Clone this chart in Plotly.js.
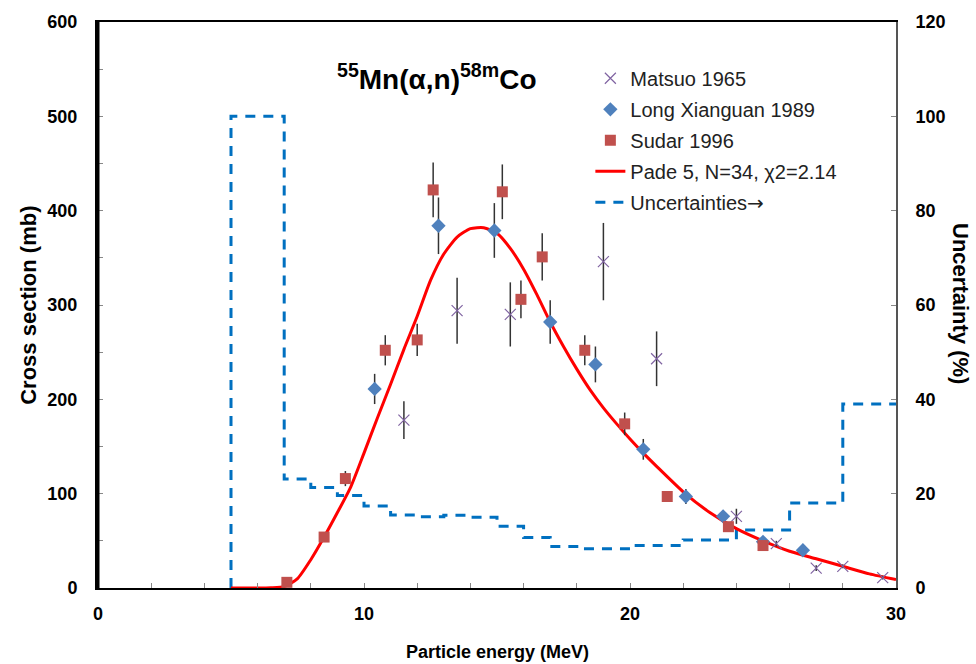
<!DOCTYPE html>
<html>
<head>
<meta charset="utf-8">
<script src="https://cdn.plot.ly/plotly-3.0.1.min.js"></script>
<style>html,body{margin:0;padding:0;background:#fff;}#chart{width:976px;height:664px;}</style>
</head>
<body>
<div id="chart"></div>
<script>
// Matsuo 1965
const matsuoX = [11.5, 13.5, 15.5, 19.0, 21.0, 24.0, 25.5, 27.0, 28.0, 29.5];
const matsuoY = [178, 294, 290, 346, 243, 76, 47, 21, 23, 11];
const matsuoErr = [20, 35, 34, 41, 29, 8, 3, 3, 2, 2];
// Long Xianguan 1989
const longX = [10.4, 12.8, 14.9, 17.0, 18.7, 20.5, 22.1, 23.5, 25.0, 26.5];
const longY = [211, 384, 379, 282, 237, 147, 97, 76, 49, 40];
const longErr = [16, 30, 29, 23, 19, 11, 8, 3, 3, 2];
// Sudar 1996
const sudarX = [7.1, 8.5, 9.3, 10.8, 12.0, 12.6, 15.2, 15.9, 16.7, 18.3, 19.8, 21.4, 23.7, 25.0];
const sudarY = [6, 54, 116, 252, 263, 422, 420, 306, 351, 252, 174, 97, 65, 45];
const sudarErr = [1, 3, 8, 16, 17, 29, 29, 20, 25, 16, 12, 3, 3, 2];
// Pade 5 fit
const padeX = [5,5.5,6,6.5,7,7.5,8,8.5,9,9.5,10,10.5,11,11.5,12,12.5,13,13.5,14,14.5,15,15.5,16,16.5,17,17.5,18,18.5,19,19.5,20,20.5,21,22,23,24,25,26,27,28,29,30];
const padeY = [0,0,0,0.3,1.5,10,30,54,80,107,143,180,216,253,288,326,354,372,381,382,376,360,338,311,282,256,232,210,191,174,158,143,129,102,80,63,50,39,31,23,15,9];
// Uncertainties (%) step function
const uncX = [5,5,7,8,9,10,11,12,13,14,15,16,17,18,19,20,21,22,23,24,25,26,27,28,29,30];
const uncY = [0,100,23.1,21.3,19.6,17.4,15.5,15.1,15.4,15.0,13.1,10.7,8.8,8.3,8.3,9.0,9.0,10.2,10.2,12.3,12.3,18.0,18.0,39.0,39.0,39.0];

const FONT = 'Arial, "Liberation Sans", Helvetica, sans-serif';
const errStyle = (arr) => ({type:'data', array: arr, visible:true, color:'#333', thickness:1.5, width:0});

const traces = [
  {x: uncX, y: uncY, yaxis:'y', type:'scatter', mode:'lines',
   name:'Uncertainties<span style="font-family:DejaVu Sans">→</span>', legendgroup:'g5',
   line:{shape:'hv', color:'#0070C0', width:3, dash:'10px,8px'}, legendrank: 5},
  {x: padeX, y: padeY, yaxis:'y2', type:'scatter', mode:'lines', name:'Pade 5, N=34, χ2=2.14', legendgroup:'g4',
   line:{color:'#FF0000', width:3, shape:'spline', smoothing:0.6}, legendrank: 4},
  {x: matsuoX, y: matsuoY, yaxis:'y2', type:'scatter', mode:'markers', name:'Matsuo 1965', legendgroup:'g1',
   marker:{symbol:'x-thin-open', size:11, color:'#8064A2', line:{color:'#8064A2', width:1.2}},
   error_y: errStyle(matsuoErr), legendrank: 1},
  {x: longX, y: longY, yaxis:'y2', type:'scatter', mode:'markers', name:'Long Xianguan 1989', legendgroup:'g2',
   marker:{symbol:'diamond', size:11, color:'#4F81BD'},
   error_y: errStyle(longErr), legendrank: 2},
  {x: sudarX, y: sudarY, yaxis:'y2', type:'scatter', mode:'markers', name:'Sudar 1996', legendgroup:'g3',
   marker:{symbol:'square', size:11, color:'#C0504D'},
   error_y: errStyle(sudarErr), legendrank: 3}
];

const tickFont = {family: FONT, size: 18, color:'#000', weight:'bold'};
const layout = {
  width: 976, height: 664,
  margin: {l: 98, r: 80, t: 22, b: 76},
  paper_bgcolor:'#fff', plot_bgcolor:'#fff',
  showlegend: true,
  legend: {x: 0.617, y: 0.935, xanchor:'left', yanchor:'top', bgcolor:'rgba(0,0,0,0)',
           font:{family: FONT, size: 20, color:'#222'}, tracegroupgap: 2, itemwidth: 30},
  xaxis: {range:[0,30], tick0:0, dtick:10, ticks:'inside', ticklen:5, tickcolor:'#888', tickwidth:1,
          minor:{dtick:2, ticks:'inside', ticklen:5, tickcolor:'#888'},
          showline:true, linecolor:'#000', linewidth:2, mirror:true, showgrid:false, zeroline:false,
          tickfont: tickFont, ticklabelstandoff: 8},
  yaxis: {range:[0,120], tick0:0, dtick:20, side:'right', ticks:'inside', ticklen:5, tickcolor:'#888',
          showline:true, linecolor:'#555', linewidth:2, showgrid:false, zeroline:false,
          tickfont: tickFont, ticklabelstandoff: 14},
  yaxis2: {range:[0,600], tick0:0, dtick:100, overlaying:'y', side:'left', anchor:'x',
           ticks:'inside', ticklen:5, tickcolor:'#888',
           minor:{dtick:50, ticks:'inside', ticklen:5, tickcolor:'#888'},
           showline:true, linecolor:'#000', linewidth:3, showgrid:false, zeroline:false,
           tickfont: tickFont, ticklabelstandoff: 14},
  shapes: [
    {type:'line', xref:'paper', yref:'paper', x0:0, x1:0, y0:0, y1:1, layer:'above', line:{color:'#000', width:3}}
  ],
  annotations: [
    {text:'<b><sup>55</sup>Mn(α,n)<sup>58m</sup>Co</b>', xref:'paper', yref:'paper', x:0.425, y:0.902,
     xanchor:'center', yanchor:'middle', showarrow:false, font:{family: FONT, size: 28, color:'#000'}},
    {text:'<b>Cross section (mb)</b>', xref:'paper', yref:'paper', x:-0.088, y:0.50, textangle:-90,
     xanchor:'center', yanchor:'middle', showarrow:false, font:{family: FONT, size: 22, color:'#000'}},
    {text:'<b>Uncertainty (%)</b>', xref:'paper', yref:'paper', x:1.080, y:0.502, textangle:90,
     xanchor:'center', yanchor:'middle', showarrow:false, font:{family: FONT, size: 22, color:'#000'}},
    {text:'<b>Particle energy (MeV)</b>', xref:'paper', yref:'paper', x:0.5, y:-0.113,
     xanchor:'center', yanchor:'middle', showarrow:false, font:{family: FONT, size: 18, color:'#000'}}
  ]
};

Plotly.newPlot('chart', traces, layout, {displayModeBar:false, staticPlot:true});
</script>
</body>
</html>
